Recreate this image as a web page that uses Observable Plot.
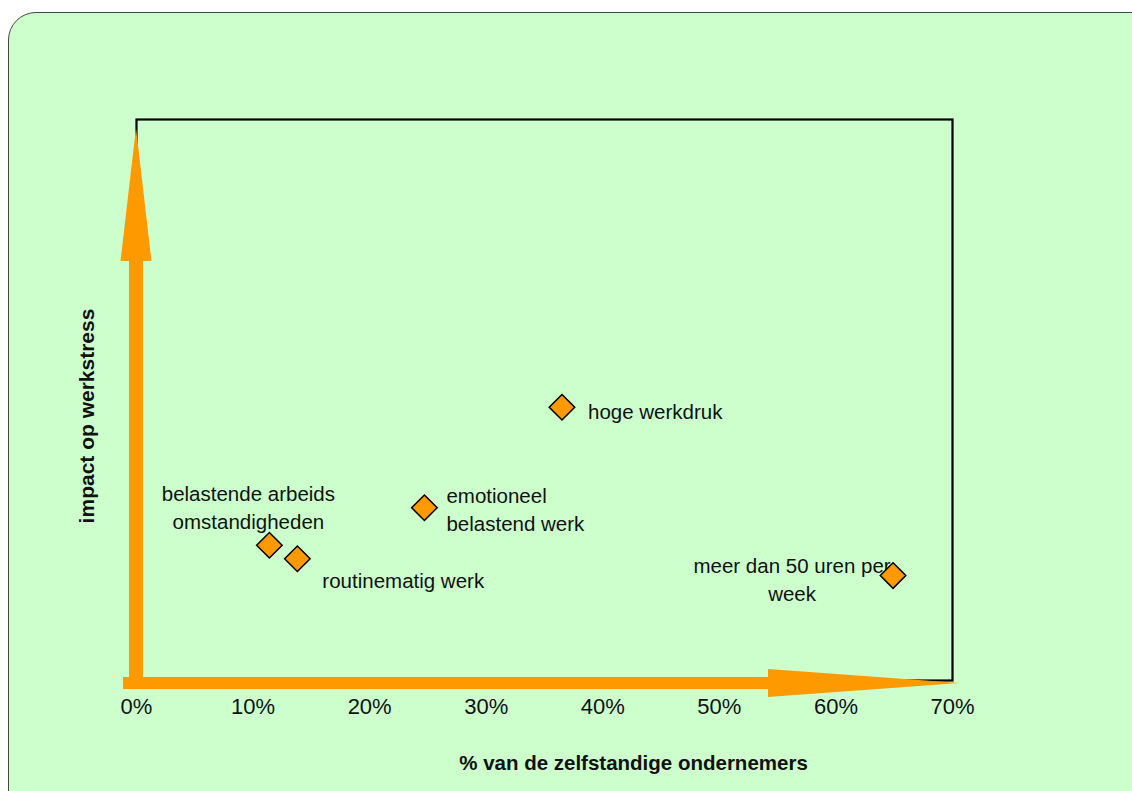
<!DOCTYPE html>
<html><head><meta charset="utf-8">
<script src="https://cdn.jsdelivr.net/npm/d3@7"></script>
<script src="https://cdn.jsdelivr.net/npm/@observablehq/plot@0.6"></script>
<style>
html,body{margin:0;padding:0;background:#fff;overflow:hidden}
#panel{position:absolute;left:8px;top:12px;width:1160px;height:820px;background:#CCFFCC;border:1.5px solid #444;border-radius:28px;}
#chart{position:absolute;left:0;top:0}
</style></head><body><div id="panel"></div><div id="chart"></div>
<script>
// ---- data ----
const names = ["hoge werkdruk", "emotioneel\nbelastend werk", "belastende arbeids\nomstandigheden", "routinematig werk", "meer dan 50 uren per\nweek"];
const share = [0.365, 0.247, 0.114, 0.138, 0.649];
const impact = [0.487, 0.308, 0.241, 0.217, 0.187];
const xTicks = [0, 0.1, 0.2, 0.3, 0.4, 0.5, 0.6, 0.7];
const xTitle = "% van de zelfstandige ondernemers";
const yTitle = "impact op werkstress";

const points = names.map((name, i) => ({name, share: share[i], impact: impact[i]}));

// label placement (styles, kept apart from data)
const placement = [
  {dx: 26, dy: 3, textAnchor: "start"},
  {dx: 22, dy: 0, textAnchor: "start"},
  {dx: -21, dy: -39, textAnchor: "middle"},
  {dx: 25, dy: 20, textAnchor: "start"},
  {dx: -101, dy: 2, textAnchor: "middle"}
];

const ORANGE = "#FF9900";

function arrows(index, scales, values, dims, context) {
  const g = d3.create("svg:g");
  const x0 = scales.x(0), y0 = scales.y(0), x1 = scales.x(0.7), y1 = scales.y(1);
  // horizontal arrow
  const cy = y0 + 3;
  const h = `M${x0 - 13},${cy - 6} L${x1 - 184},${cy - 6} L${x1 - 184},${cy - 14} L${x1 + 8},${cy} L${x1 - 184},${cy + 14} L${x1 - 184},${cy + 6} L${x0 - 13},${cy + 6} Z`;
  // vertical arrow
  const v = `M${x0 - 7},${y0 + 6} L${x0 - 7},${y1 + 142} L${x0 - 15.5},${y1 + 142} L${x0},${y1 + 9} L${x0 + 15.5},${y1 + 142} L${x0 + 7},${y1 + 142} L${x0 + 7},${y0 + 6} Z`;
  g.append("path").attr("d", h).attr("fill", ORANGE);
  g.append("path").attr("d", v).attr("fill", ORANGE);
  return g.node();
}

const labelMarks = points.map((p, i) => Plot.text([p], {
  x: "share", y: "impact", text: "name",
  dx: placement[i].dx, dy: placement[i].dy, textAnchor: placement[i].textAnchor,
  lineAnchor: "middle", lineHeight: 1.37, fontSize: 20.5, fill: "#111"
}));

const plot = Plot.plot({
  width: 1132, height: 791,
  marginLeft: 136, marginRight: 180, marginTop: 119, marginBottom: 111,
  style: {background: "transparent", fontFamily: "'Liberation Sans', Arial, sans-serif", fontSize: "22px", color: "#111"},
  x: {domain: [0, 0.7], ticks: xTicks, tickFormat: d => Math.round(d * 100) + "%", tickSize: 0, tickPadding: 18, label: null},
  y: {domain: [0, 1], axis: null},
  marks: [
    Plot.frame({stroke: "#000", strokeWidth: 2.2}),
    arrows,
    ...labelMarks,
    Plot.dot(points, {x: "share", y: "impact", symbol: "diamond2", r: 11.5, fill: ORANGE, stroke: "#000", strokeWidth: 1.5}),
    Plot.text([xTitle], {text: d => d, frameAnchor: "bottom", dx: 89, dy: 83, lineAnchor: "middle", fontWeight: "bold", fontSize: 20.5, fill: "#111"}),
    Plot.text([yTitle], {text: d => d, frameAnchor: "left", textAnchor: "middle", rotate: -90, dx: -49, dy: 16, lineAnchor: "middle", fontWeight: "bold", fontSize: 21, fill: "#111"})
  ]
});
document.getElementById("chart").appendChild(plot);
</script>
</body></html>
